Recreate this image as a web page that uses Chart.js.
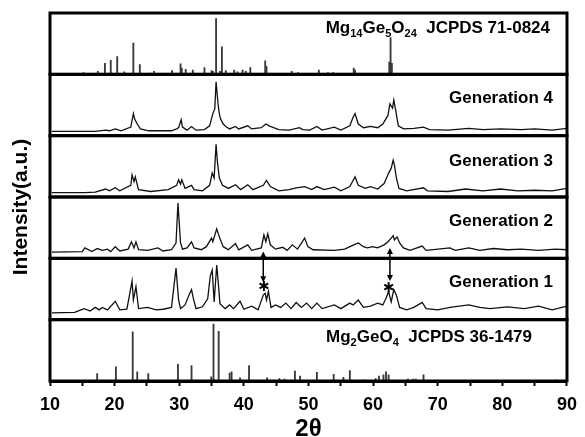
<!DOCTYPE html>
<html>
<head>
<meta charset="utf-8">
<script src="https://cdn.jsdelivr.net/npm/chart.js@4.4.0/dist/chart.umd.min.js"></script>
<style>
  html, body { margin: 0; padding: 0; background: #fff; }
</style>
</head>
<body>
<canvas id="xrd-canvas" width="585" height="437"></canvas>
<script>
// x axis (2theta)
const xTickValues = [10, 15, 20, 25, 30, 35, 40, 45, 50, 55, 60, 65, 70, 75, 80, 85, 90];
const xTickLabels = [10, 20, 30, 40, 50, 60, 70, 80, 90];

// reference sticks [2theta, relative intensity]
const mg14Ge5O24Sticks = [
  [15.2, 3], [17.4, 5], [18.5, 18], [19.4, 23], [20.4, 29], [21.5, 4], [22.9, 51], [23.9, 16],
  [25.5, 2], [26.1, 5], [28.9, 6], [30.2, 17], [30.4, 10], [31.0, 8], [32.1, 7], [33.9, 11],
  [35.0, 6], [35.2, 5], [35.7, 91], [36.3, 5], [36.6, 45], [37.2, 6], [38.5, 7], [39.0, 4],
  [39.8, 7], [40.3, 5], [41.0, 11], [43.3, 22], [43.5, 13], [47.4, 5], [48.4, 3], [51.6, 7],
  [53.0, 3], [53.8, 3], [57.0, 10], [57.2, 7], [62.5, 20], [62.7, 60], [62.9, 18]
];
const mg2GeO4Sticks = [
  [17.3, 12], [20.2, 23], [22.8, 80], [23.5, 15], [25.2, 12], [29.8, 27], [31.9, 25], [34.95, 7],
  [35.3, 93], [36.1, 81], [37.8, 13], [38.1, 15], [39.4, 5], [40.8, 25], [43.6, 5], [45.5, 4],
  [46.3, 3], [47.9, 16], [48.7, 8], [51.3, 14], [53.9, 11], [55.4, 6], [56.4, 17], [58.5, 2],
  [60.4, 4], [60.9, 8], [61.6, 10], [62.0, 15], [62.4, 10], [65.4, 3], [66.2, 3], [66.6, 3],
  [67.8, 10], [70.0, 1.5], [83.1, 1.5], [88.2, 1.5]
];

// measured patterns [2theta, intensity] (0-100 within each panel)
const gen4 = [
  [10.3, 7], [15.4, 7], [17.0, 7], [18.6, 9], [19.2, 8], [20.1, 11], [21.0, 8], [22.5, 14], [22.9, 36],
  [23.1, 27], [23.5, 19], [24.0, 11], [25.3, 8], [26.9, 8], [28.8, 8], [29.6, 11], [29.9, 13], [30.3, 26],
  [30.5, 14], [31.2, 9], [31.9, 15], [32.6, 9], [33.9, 10], [34.7, 16], [35.2, 36], [35.5, 44], [35.7, 88],
  [36.0, 52], [36.2, 36], [36.4, 27], [36.8, 19], [37.3, 14], [37.8, 11], [38.7, 15], [39.2, 11], [40.6, 16],
  [41.2, 11], [42.7, 13], [43.4, 19], [43.9, 16], [45.4, 10], [47.0, 9], [48.6, 13], [49.1, 10], [50.2, 9],
  [51.3, 15], [52.1, 9], [54.0, 14], [55.0, 9], [56.4, 16], [56.9, 30], [57.2, 36], [57.7, 19], [58.5, 13],
  [59.6, 15], [60.7, 13], [61.5, 19], [62.3, 33], [62.6, 52], [63.0, 45], [63.2, 58], [63.5, 41], [63.9, 16],
  [64.7, 11], [66.3, 12], [67.8, 14], [68.7, 10], [71.6, 9], [74.8, 12], [77.0, 10], [79.7, 11], [82.9, 10],
  [85.0, 11], [87.7, 9], [90.0, 12]
];
const gen3 = [
  [10.3, 7], [15.4, 7], [17.0, 8], [18.6, 13], [19.2, 10], [20.1, 15], [20.8, 10], [22.5, 19], [22.7, 36],
  [23.0, 25], [23.2, 33], [23.7, 12], [25.6, 9], [28.3, 12], [29.6, 19], [29.9, 28], [30.2, 21], [30.4, 28],
  [30.9, 14], [31.9, 19], [32.3, 12], [33.6, 10], [34.7, 19], [35.1, 39], [35.4, 31], [35.7, 86], [35.9, 58],
  [36.2, 31], [36.7, 19], [37.6, 14], [38.7, 20], [39.5, 12], [40.6, 20], [41.4, 12], [43.0, 19], [43.5, 27],
  [44.1, 17], [45.4, 10], [47.0, 12], [48.1, 15], [49.4, 17], [50.5, 12], [51.3, 17], [52.4, 12], [54.0, 16],
  [55.0, 10], [56.4, 17], [57.2, 33], [57.7, 19], [58.8, 14], [59.6, 17], [60.7, 13], [61.7, 22], [62.4, 39],
  [62.8, 47], [63.1, 60], [63.3, 52], [63.6, 31], [64.0, 14], [65.2, 10], [67.8, 15], [68.4, 10], [71.6, 9],
  [74.3, 13], [77.0, 10], [79.7, 13], [82.4, 10], [85.0, 11], [87.7, 10], [90.0, 14]
];
const gen2 = [
  [10.3, 10], [15.0, 11], [15.4, 17], [16.5, 11], [17.3, 16], [18.1, 13], [18.9, 15], [19.4, 11], [20.1, 19],
  [20.8, 12], [22.1, 15], [22.6, 27], [23.0, 17], [23.3, 27], [23.7, 14], [25.1, 13], [26.7, 17], [27.5, 12],
  [28.8, 14], [29.5, 25], [29.8, 90], [30.2, 25], [30.5, 15], [31.2, 17], [31.9, 27], [32.3, 17], [33.4, 14],
  [34.2, 19], [35.0, 33], [35.2, 27], [35.8, 48], [36.2, 35], [36.8, 19], [37.6, 14], [38.7, 24], [39.2, 14],
  [40.6, 22], [41.2, 13], [42.7, 17], [43.1, 38], [43.4, 27], [43.7, 40], [44.1, 22], [44.9, 15], [46.0, 18],
  [46.7, 13], [47.5, 22], [48.3, 15], [49.4, 33], [49.9, 19], [50.7, 14], [54.0, 13], [55.6, 15], [57.0, 22],
  [57.7, 25], [58.5, 19], [59.1, 17], [59.9, 19], [60.7, 17], [61.7, 22], [62.3, 27], [62.8, 33], [63.1, 37],
  [63.3, 30], [63.7, 35], [64.1, 25], [64.7, 17], [65.7, 13], [67.6, 20], [68.2, 13], [71.9, 17], [72.7, 13],
  [74.8, 17], [76.5, 13], [78.6, 16], [80.8, 14], [82.9, 15], [85.6, 13], [88.2, 15], [90.0, 14]
];
const gen1 = [
  [10.3, 11], [13.8, 12], [15.3, 18], [16.2, 14], [17.0, 20], [17.6, 16], [18.1, 20], [18.9, 16], [20.1, 30],
  [20.8, 16], [21.9, 17], [22.7, 63], [22.9, 32], [23.3, 54], [23.7, 18], [25.1, 20], [26.4, 16], [27.5, 17],
  [28.8, 20], [29.5, 84], [29.9, 32], [30.2, 18], [30.9, 24], [31.5, 40], [31.9, 49], [32.2, 34], [32.6, 18],
  [33.6, 21], [34.4, 34], [34.8, 71], [35.1, 81], [35.4, 29], [35.8, 89], [36.0, 65], [36.3, 26], [37.1, 18],
  [37.8, 24], [38.4, 18], [39.4, 30], [40.0, 17], [41.2, 22], [42.2, 16], [43.0, 40], [43.3, 43], [43.5, 32],
  [43.8, 46], [44.2, 20], [44.9, 24], [45.7, 20], [46.5, 27], [47.3, 18], [48.1, 28], [48.9, 20], [49.7, 27],
  [50.5, 18], [51.3, 27], [52.1, 18], [54.0, 24], [55.0, 18], [56.4, 27], [56.9, 24], [57.7, 32], [58.5, 20],
  [59.6, 22], [60.7, 27], [61.5, 24], [62.0, 35], [62.4, 46], [62.8, 29], [63.2, 49], [63.6, 40], [64.1, 20],
  [65.2, 16], [66.3, 20], [67.6, 28], [68.2, 18], [70.0, 16], [71.9, 20], [74.8, 24], [76.5, 20], [78.1, 18],
  [80.8, 21], [83.4, 18], [85.6, 22], [87.7, 16], [90.0, 22]
];

// double arrows between Generation 2 and 1, stars in Generation 1
const arrowAngles = [43.0, 62.6];
const arrowTopGen2 = [11, 17];
const arrowBottomGen1 = [61, 63];
const starAngles = [43.1, 62.4];
const starGen1 = [55, 53];

const FONT = '"Liberation Sans", Arial, Helvetica, sans-serif';
// panels from top to bottom
const panelIds = ['yRefTop', 'yGen4', 'yGen3', 'yGen2', 'yGen1', 'yRefBottom'];

const toXY = arr => arr.map(p => ({ x: p[0], y: p[1] }));

function stickSet(data, axis) {
  return {
    type: 'bar', data: toXY(data), yAxisID: axis,
    backgroundColor: '#3a3a3a', borderWidth: 0, barThickness: 1.2, grouped: false
  };
}
function lineSet(data, axis) {
  return {
    type: 'line', data: toXY(data), yAxisID: axis,
    borderColor: '#111', borderWidth: 1.3, pointRadius: 0, tension: 0, fill: false
  };
}

// rich text with subscripts, right aligned
function drawRich(ctx, parts, right, baseline) {
  const main = 'bold 17px ' + FONT;
  const sub = 'bold 11px ' + FONT;
  let total = 0;
  parts.forEach(([t, s]) => { ctx.font = s ? sub : main; total += ctx.measureText(t).width; });
  let x = right - total;
  parts.forEach(([t, s]) => {
    ctx.font = s ? sub : main;
    ctx.fillText(t, x, baseline + (s ? 4 : 0));
    x += ctx.measureText(t).width;
  });
}

const panelLabels = [
  { axis: 'yRefTop', dx: 17, dy: 20, parts: [['Mg', 0], ['14', 1], ['Ge', 0], ['5', 1], ['O', 0], ['24', 1], ['  JCPDS 71-0824', 0]] },
  { axis: 'yGen4', dx: 14, dy: 29, parts: [['Generation 4', 0]] },
  { axis: 'yGen3', dx: 14, dy: 30, parts: [['Generation 3', 0]] },
  { axis: 'yGen2', dx: 14, dy: 29, parts: [['Generation 2', 0]] },
  { axis: 'yGen1', dx: 14, dy: 29, parts: [['Generation 1', 0]] },
  { axis: 'yRefBottom', dx: 35, dy: 22, parts: [['Mg', 0], ['2', 1], ['GeO', 0], ['4', 1], ['  JCPDS 36-1479', 0]] }
];

const decorations = {
  id: 'decorations',
  afterDatasetsDraw(chart) {
    const { ctx, chartArea: a, scales } = chart;
    ctx.save();
    // panel frames
    ctx.strokeStyle = '#000';
    ctx.lineWidth = 3;
    panelIds.forEach(id => {
      const s = scales[id];
      ctx.strokeRect(a.left, s.top, a.right - a.left, s.bottom - s.top);
    });

    // double arrows
    ctx.lineWidth = 1.5;
    ctx.fillStyle = '#000';
    arrowAngles.forEach((ang, i) => {
      const x = scales.x.getPixelForValue(ang);
      const y0 = scales.yGen2.getPixelForValue(arrowTopGen2[i]);
      const y1 = scales.yGen1.getPixelForValue(arrowBottomGen1[i]);
      ctx.beginPath();
      ctx.moveTo(x, y0 + 4);
      ctx.lineTo(x, y1 - 4);
      ctx.stroke();
      ctx.beginPath();
      ctx.moveTo(x, y0); ctx.lineTo(x - 3, y0 + 6); ctx.lineTo(x + 3, y0 + 6); ctx.closePath();
      ctx.fill();
      ctx.beginPath();
      ctx.moveTo(x, y1); ctx.lineTo(x - 3, y1 - 6); ctx.lineTo(x + 3, y1 - 6); ctx.closePath();
      ctx.fill();
    });

    // stars
    ctx.lineWidth = 2;
    starAngles.forEach((ang, i) => {
      const x = scales.x.getPixelForValue(ang);
      const y = scales.yGen1.getPixelForValue(starGen1[i]);
      for (let k = 0; k < 3; k++) {
        const t = Math.PI / 2 + k * Math.PI / 3;
        ctx.beginPath();
        ctx.moveTo(x - 5 * Math.cos(t), y - 5 * Math.sin(t));
        ctx.lineTo(x + 5 * Math.cos(t), y + 5 * Math.sin(t));
        ctx.stroke();
      }
    });

    // panel labels
    ctx.fillStyle = '#000';
    ctx.textAlign = 'left';
    ctx.textBaseline = 'alphabetic';
    panelLabels.forEach(l => {
      drawRich(ctx, l.parts, a.right - l.dx, scales[l.axis].top + l.dy);
    });

    // axis titles
    ctx.font = 'bold 24px ' + FONT;
    ctx.textAlign = 'center';
    ctx.fillText('2\u03B8', (a.left + a.right) / 2, 436);

    ctx.translate(27, 207);
    ctx.rotate(-Math.PI / 2);
    ctx.font = 'bold 21px ' + FONT;
    ctx.fillText('Intensity(a.u.)', 0, 0);
    ctx.restore();
  }
};

const scales = {
  x: {
    type: 'linear', position: 'bottom', min: 10, max: 90, offset: false,
    afterBuildTicks: s => { s.ticks = xTickValues.map(v => ({ value: v })); },
    ticks: {
      autoSkip: false, maxRotation: 0, color: '#000', padding: 8,
      font: { family: FONT, size: 18, weight: 'bold' },
      callback: v => (xTickLabels.includes(v) ? String(v) : '')
    },
    grid: { drawOnChartArea: false, drawTicks: true, tickLength: 5, tickWidth: 2, tickColor: '#000', offset: false },
    border: { display: true, color: '#000', width: 3 },
    afterFit: s => { s.height = 56; }
  }
};
// stacked left axes are laid out last-defined on top, so add them bottom-up
panelIds.slice().reverse().forEach(id => {
  scales[id] = {
    type: 'linear', position: 'left', stack: 'xrd', stackWeight: 1, min: 0, max: 100,
    ticks: { display: false }, grid: { display: false }, border: { display: false },
    afterFit: s => { s.width = 0; }
  };
});

new Chart(document.getElementById('xrd-canvas'), {
  type: 'line',
  data: {
    datasets: [
      stickSet(mg14Ge5O24Sticks, 'yRefTop'),
      lineSet(gen4, 'yGen4'),
      lineSet(gen3, 'yGen3'),
      lineSet(gen2, 'yGen2'),
      lineSet(gen1, 'yGen1'),
      stickSet(mg2GeO4Sticks, 'yRefBottom')
    ]
  },
  options: {
    responsive: false,
    animation: false,
    layout: { padding: { left: 50, right: 14, top: 13, bottom: 0 } },
    plugins: { legend: { display: false }, tooltip: { enabled: false } },
    scales: scales
  },
  plugins: [decorations]
});
</script>
</body>
</html>
